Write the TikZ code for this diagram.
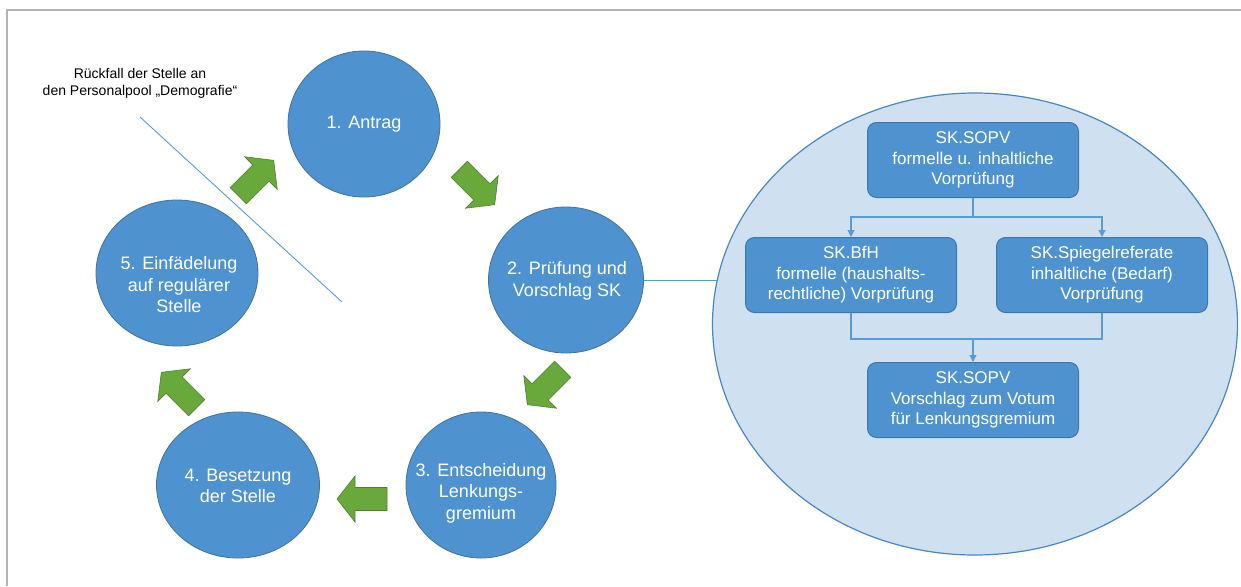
\documentclass[tikz,border=0pt]{standalone}
\usepackage{fontspec}
\setmainfont{Liberation Sans}
\usetikzlibrary{arrows.meta,shapes.geometric}
\definecolor{cblue}{HTML}{4E93CF}
\definecolor{cedge}{HTML}{41719C}
\definecolor{ellfill}{HTML}{CFE1F1}
\definecolor{elledge}{HTML}{4A86C0}
\definecolor{boxedge}{HTML}{3E76AE}
\definecolor{lineblue}{HTML}{5B9BD5}
\definecolor{ggreen}{HTML}{69A93C}
\definecolor{gedge}{HTML}{4F8030}
\definecolor{frame}{HTML}{B4B4B4}
\tikzset{
  stepcircle/.style={ellipse, fill=cblue, draw=cedge, line width=0.8pt, inner sep=0pt},
  steptext/.style={text=white, font=\fontsize{18}{21.5}\selectfont, align=center, inner sep=0pt},
  subbox/.style={rectangle, rounded corners=9pt, fill=cblue, draw=boxedge, line width=1pt,
    text=white, minimum width=211pt, minimum height=75pt, align=center,
    font=\fontsize{17}{20.5}\selectfont, inner sep=0pt},
  conn/.style={draw=lineblue, line width=1.1pt},
  connarrow/.style={conn, -{Triangle[length=7pt,width=7pt]}},
  garrow/.pic={\filldraw[fill=ggreen, draw=gedge, line width=0.6pt]
     (-25,-11.5) -- (7,-11.5) -- (7,-23) -- (25,0) -- (7,23) -- (7,11.5) -- (-25,11.5) -- cycle;}
}
\begin{document}
\begin{tikzpicture}[x=1pt,y=-1pt]
\useasboundingbox (0,0) rectangle (1241,586);
\fill[white] (0,0) rectangle (1241,586);
% frame
\draw[frame, line width=2pt] (7,586) -- (7,10) -- (1241,10);

% big ellipse
\node[ellipse, fill=ellfill, draw=elledge, line width=1.2pt, minimum width=525pt, minimum height=462pt, inner sep=0pt] (big) at (975,324) {};

% circles
\node[stepcircle, minimum width=152pt, minimum height=146pt] (c1) at (364,124) {};
\node[steptext] (t1) at (364,124) {1. Antrag};
\node[stepcircle, minimum width=155pt, minimum height=146pt] (c2) at (566,280) {};
\node[steptext] (t2) at (567,281) {2. Prüfung und\\Vorschlag SK};
\node[stepcircle, minimum width=150pt, minimum height=146pt] (c3) at (481,485) {};
\node[steptext] (t3) at (481,493) {3. Entscheidung\\Lenkungs-\\gremium};
\node[stepcircle, minimum width=163pt, minimum height=146pt] (c4) at (238,485) {};
\node[steptext] (t4) at (238,486) {4. Besetzung\\der Stelle};
\node[stepcircle, minimum width=162pt, minimum height=146pt] (c5) at (177,273) {};
\node[steptext] (t5) at (179,285) {5. Einfädelung\\auf regulärer\\Stelle};

% line circle 2 -> ellipse
\coordinate (lend) at (717,280);
\draw[conn, line width=0.9pt] (c2.east) -- (lend);

% label and diagonal line
\node[font=\fontsize{14}{17}\selectfont, align=center] (lbl) at (140,83) {Rückfall der Stelle an\\den Personalpool „Demografie“};
\coordinate (d1) at (140,117);
\coordinate (d2) at (342,302);
\draw[lineblue, line width=0.9pt] (d1) -- (d2);

% green arrows
\pic[rotate=45] at (256,178) {garrow};
\pic[rotate=-45] at (477,187) {garrow};
\pic[rotate=-135] at (545,387) {garrow};
\pic[rotate=180] at (362,499) {garrow};
\pic[rotate=135] at (179,390) {garrow};

% boxes
\node[subbox] (b1) at (973,160) {SK.SOPV\\formelle u. inhaltliche\\Vorprüfung};
\node[subbox] (b2) at (851,275) {SK.BfH\\formelle (haushalts-\\rechtliche) Vorprüfung};
\node[subbox] (b3) at (1102,275) {SK.Spiegelreferate\\inhaltliche (Bedarf)\\Vorprüfung};
\node[subbox] (b4) at (973,400) {SK.SOPV\\Vorschlag zum Votum\\für Lenkungsgremium};

\coordinate (j1) at (973,217);
\coordinate (j2) at (973,339);
\draw[conn] (b1.south) -- (j1);
\draw[connarrow] (j1) -| (b2.north);
\draw[connarrow] (j1) -| (b3.north);
\draw[conn] (b2.south) |- (j2);
\draw[conn] (b3.south) |- (j2);
\draw[connarrow] (j2) -- (b4.north);
\end{tikzpicture}
\end{document}
